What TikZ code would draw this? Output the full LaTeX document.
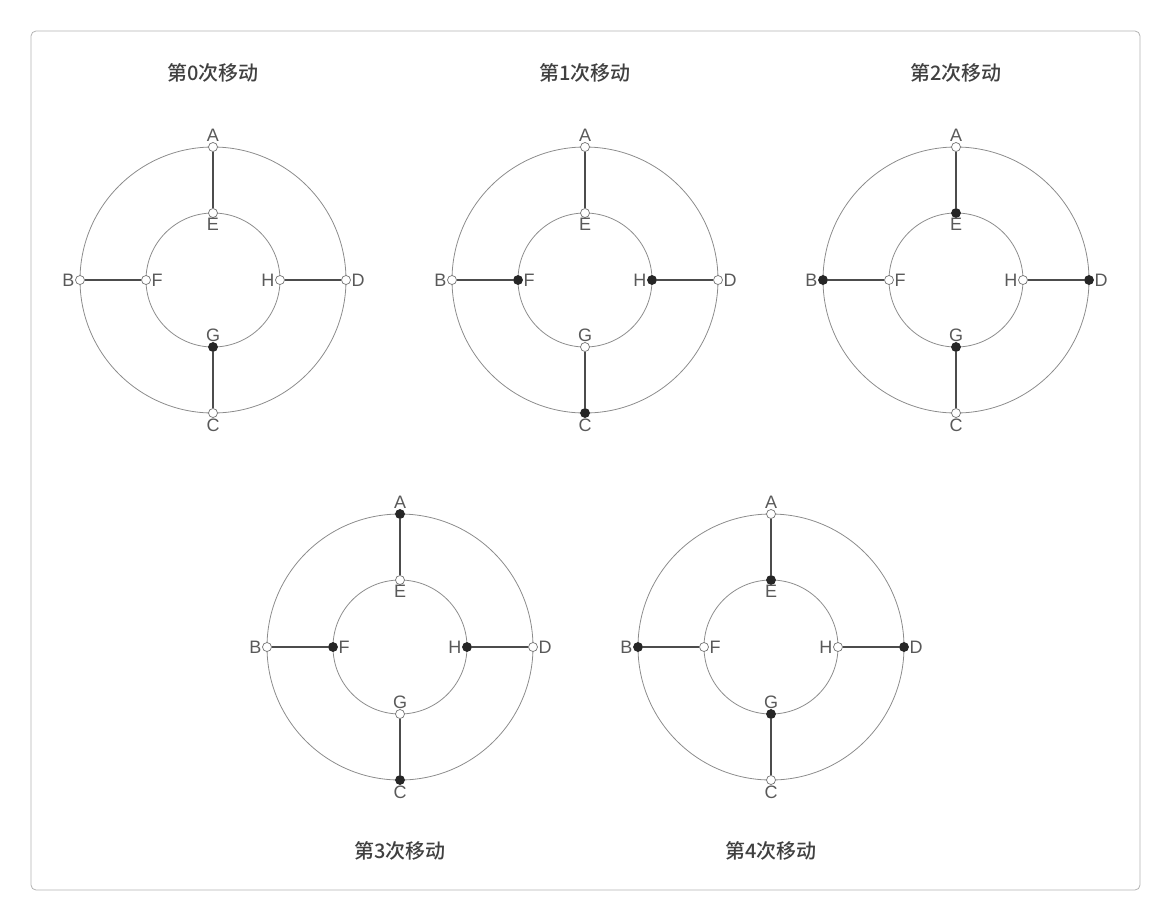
\documentclass[tikz,border=0pt]{standalone}
\usepackage{fontspec}
\setmainfont{Liberation Sans}
\newfontfamily\cjk{Noto Sans CJK SC Medium}
\begin{document}
\begin{tikzpicture}[x=1pt,y=-1pt,
  ring/.style={draw=black!45,line width=0.8pt},
  spoke/.style={draw=black!70,line width=1.2pt},
  pt/.style={circle,draw=black!55,line width=0.7pt,fill=white,inner sep=0pt,minimum size=9pt},
  on/.style={fill=black!85,draw=black!85},
  lab/.style={text=black!65,font=\fontsize{18}{18}\selectfont,inner sep=0.5pt},
  ttl/.style={text=black!75,font=\cjk\fontsize{20}{20}\selectfont}]
\useasboundingbox (0,0) rectangle (1171,922);
\draw[black!30,rounded corners=5pt,line width=0.8pt] (31,31) rectangle (1140,890);
\newcommand{\wheel}[7]{%
 \begin{scope}[shift={(#1,#2)}]
  \draw[ring] (0,0) circle (133);
  \draw[ring] (0,0) circle (67);
  \node[pt,#3] (#7A) at (0,-133) {};
  \node[pt,#4] (#7B) at (-133,0) {};
  \node[pt,#5] (#7C) at (0,133) {};
  \node[pt,#6] (#7D) at (133,0) {};
 \end{scope}}
\newcommand{\inner}[7]{%
 \begin{scope}[shift={(#1,#2)}]
  \node[pt,#3] (#7E) at (0,-67) {};
  \node[pt,#4] (#7F) at (-67,0) {};
  \node[pt,#5] (#7G) at (0,67) {};
  \node[pt,#6] (#7H) at (67,0) {};
  \draw[spoke] (#7A) -- (#7E); \draw[spoke] (#7B) -- (#7F);
  \draw[spoke] (#7C) -- (#7G); \draw[spoke] (#7D) -- (#7H);
  \node[lab,above] at (#7A.north) {A};
  \node[lab,below] at (#7E.south) {E};
  \node[lab,left] at (#7B.west) {B};
  \node[lab,right] at (#7F.east) {F};
  \node[lab,above] at (#7G.north) {G};
  \node[lab,below] at (#7C.south) {C};
  \node[lab,left] at (#7H.west) {H};
  \node[lab,right] at (#7D.east) {D};
 \end{scope}}
% 0
\wheel{213}{280}{}{}{}{}{a}\inner{213}{280}{}{}{on}{}{a}
\node[ttl] (t0) at (213,73) {第0次移动};
% 1
\wheel{585}{280}{}{}{on}{}{b}\inner{585}{280}{}{on}{}{on}{b}
\node[ttl] (t1) at (585,73) {第1次移动};
% 2
\wheel{956}{280}{}{on}{}{on}{c}\inner{956}{280}{on}{}{on}{}{c}
\node[ttl] (t2) at (956,73) {第2次移动};
% 3
\wheel{400}{647}{on}{}{on}{}{d}\inner{400}{647}{}{on}{}{on}{d}
\node[ttl] (t3) at (400,851) {第3次移动};
% 4
\wheel{771}{647}{}{on}{}{on}{e}\inner{771}{647}{on}{}{on}{}{e}
\node[ttl] (t4) at (771,851) {第4次移动};
\end{tikzpicture}
\end{document}
